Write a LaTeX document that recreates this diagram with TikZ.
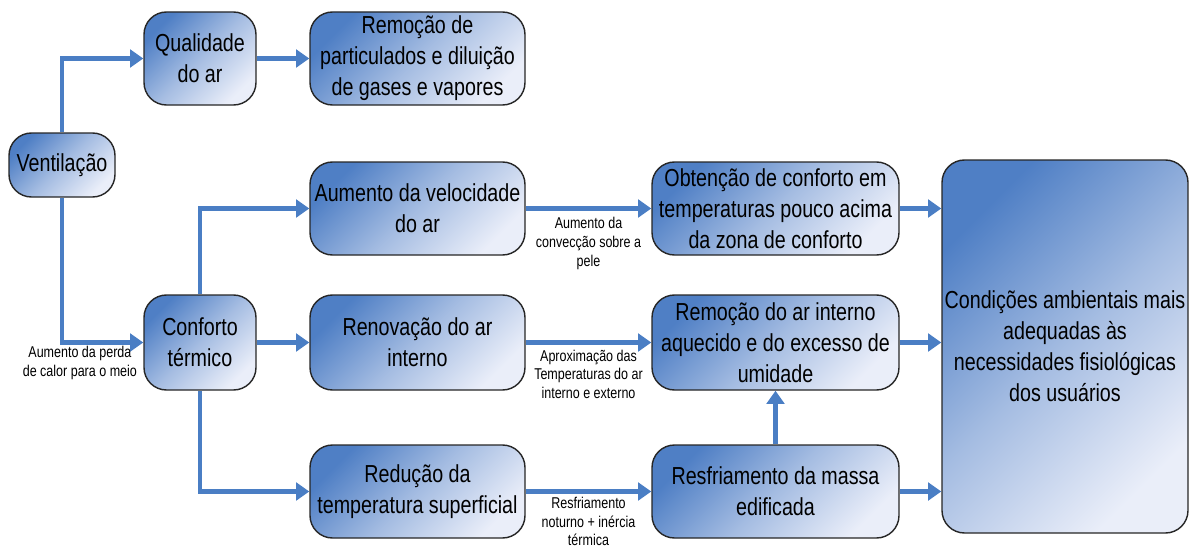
\documentclass[tikz,border=0pt]{standalone}
\usepackage{fontspec}
\setmainfont{Liberation Sans}[FakeStretch=0.8]
\usetikzlibrary{arrows.meta}
\definecolor{arrowblue}{RGB}{74,126,196}
\definecolor{boxdark}{RGB}{79,127,197}
\definecolor{boxlight}{RGB}{234,238,249}
\begin{document}
\begin{tikzpicture} [
                box/.style={draw=black!85,line width=0.8pt,rounded corners=0.45cm,
                    top color=boxdark,bottom color=boxlight,middle color=boxdark!45!boxlight,
                    shading angle=45,
                    align=center,inner sep=0pt,font=\fontsize{14}{17.6}\selectfont},
                link/.style = {draw=arrowblue,line width=2.3pt,-{Triangle[length=7.5pt,width=10pt]}},
                note/.style={align=center,inner sep=1pt,font=\fontsize{8.9}{10.6}\selectfont},
            ]
            \useasboundingbox (0,0) rectangle (23.78,-10.94);
            \foreach \pos/\name/\w/\h/\txt in {
            {(1.24,-3.30)/vent/2.12/1.28/Ventilação},
            {(4.00,-1.17)/qual/2.24/1.86/Qualidade\\do ar},
            {(8.35,-1.17)/remp/4.30/1.86/Remoção de\\particulados e diluição\\de gases e vapores},
            {(8.35,-4.17)/aum/4.30/1.86/Aumento da velocidade\\do ar},
            {(4.00,-6.85)/conf/2.24/1.90/Conforto\\térmico},
            {(8.35,-6.85)/ren/4.30/1.90/Renovação do ar\\interno},
            {(8.35,-9.83)/red/4.30/1.86/Redução da\\temperatura superficial},
            {(15.51,-4.17)/obt/4.94/1.86/Obtenção de conforto em\\temperaturas pouco acima\\da zona de conforto},
            {(15.51,-6.85)/rema/4.94/1.90/Remoção do ar interno\\aquecido e do excesso de\\umidade},
            {(15.51,-9.83)/resf/4.94/1.86/Resfriamento da massa\\edificada},
            {(21.30,-6.93)/cond/4.92/7.46/Condições ambientais mais\\adequadas às\\necessidades fisiológicas\\dos usuários}}
                \node[box,minimum width=\w cm,minimum height=\h cm] (\name) at \pos {\txt};
            \foreach \source/ \dest in {
                    qual/remp,conf/ren,resf/rema}
                \path[link] (\source) -- (\dest);
            \foreach \source in {obt,rema,resf}
                \path[link] (\source) -- (\source -| cond.west);
            \path[link] (vent) |- (qual);
            \path[link] (vent) |- node[note,pos=0.61,below] (lperda) {Aumento da perda\\de calor para o meio} (conf);
            \path[link] (conf) |- (aum);
            \path[link] (conf) |- (red);
            \path[link] (aum) -- node[note,below=3pt] (lconv) {Aumento da\\convecção sobre a\\pele} (obt);
            \path[link] (ren) -- node[note,below=2pt] (lprox) {Aproximação das\\Temperaturas do ar\\interno e externo} (rema);
            \path[link] (red) -- node[note,below=1pt] (lresf) {Resfriamento\\noturno + inércia\\térmica} (resf);
        \end{tikzpicture}
\end{document}
